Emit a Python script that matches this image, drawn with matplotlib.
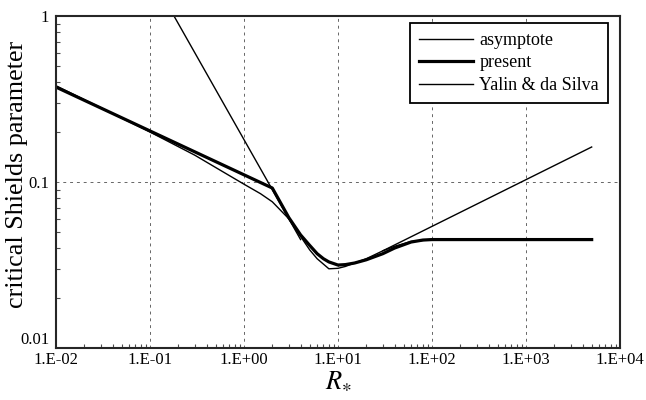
import matplotlib
matplotlib.use("Agg")
import matplotlib.pyplot as plt
from matplotlib.ticker import FixedLocator, LogLocator, NullFormatter

plt.rcParams['font.family'] = ['Liberation Serif', 'DejaVu Serif']
plt.rcParams['mathtext.fontset'] = 'stix'

# values
asym_low_R = [0.18, 4.0]
asym_low_theta = [1.0, 0.045]
asym_high_R = [30, 5000]
asym_high_theta = [0.0385, 0.1625]

present_R = [0.01, 2.0, 3, 4, 5, 6, 7, 8, 10, 12, 15, 20, 30, 40, 60, 80, 100, 5000]
present_theta = [0.373, 0.092, 0.061, 0.048, 0.0415, 0.037, 0.0345, 0.033, 0.0316,
                 0.0318, 0.0325, 0.034, 0.037, 0.040, 0.0435, 0.0447, 0.045, 0.045]

yalin_R = [0.01, 0.03, 0.1, 0.3, 0.6, 1, 1.5, 2, 3, 4, 5, 6, 8, 10, 12, 15, 20,
           30, 40, 60, 100, 5000]
yalin_theta = [0.38, 0.28, 0.200, 0.145, 0.115, 0.097, 0.085, 0.076, 0.060, 0.047,
               0.039, 0.0345, 0.030, 0.0302, 0.031, 0.0325, 0.0345, 0.0385, 0.041,
               0.0438, 0.045, 0.045]

x_ticks = [1e-2, 1e-1, 1e0, 1e1, 1e2, 1e3, 1e4]
x_labels = ['1.E-02', '1.E-01', '1.E+00', '1.E+01', '1.E+02', '1.E+03', '1.E+04']
y_ticks = [0.01, 0.1, 1]
y_labels = ['0.01', '0.1', '1']

fig = plt.figure(figsize=(6.46, 4.0), dpi=100)
ax = fig.add_axes([0.0867, 0.13, 0.873, 0.83])

ax.plot(asym_low_R, asym_low_theta, color='black', lw=1.0, label='asymptote')
ax.plot(asym_high_R, asym_high_theta, color='black', lw=1.0)
ax.plot(present_R, present_theta, color='black', lw=2.3, label='present')
ax.plot(yalin_R, yalin_theta, color='black', lw=1.0, label='Yalin & da Silva')

ax.set_xscale('log')
ax.set_yscale('log')
ax.set_xlim(1e-2, 1e4)
ax.set_ylim(0.01, 1)

ax.xaxis.set_major_locator(FixedLocator(x_ticks))
ax.set_xticklabels(x_labels)
ax.yaxis.set_major_locator(FixedLocator(y_ticks))
ax.set_yticklabels(y_labels)
ax.xaxis.set_minor_locator(LogLocator(base=10, subs=range(2, 10), numticks=20))
ax.yaxis.set_minor_locator(LogLocator(base=10, subs=range(2, 10), numticks=20))
ax.xaxis.set_minor_formatter(NullFormatter())
ax.yaxis.set_minor_formatter(NullFormatter())
ax.tick_params(which='both', direction='in', labelsize=12, width=0.8, color='0.3')
ax.tick_params(which='major', length=0)
ax.tick_params(axis='x', which='major', pad=3)
ax.tick_params(axis='y', which='major', pad=5)
ax.tick_params(which='minor', length=3)
# the bottom y label sits a little above the spine, clear of 1.E-02
ax.get_yticklabels()[0].set_va('bottom')

ax.grid(True, which='major', color='0.4', lw=0.7, linestyle=(0, (3, 4)))

for s in ax.spines.values():
    s.set_linewidth(1.5)
    s.set_color('0.15')

ax.set_ylabel('critical Shields parameter', fontsize=18.8)
ax.yaxis.set_label_coords(-0.049, 0.522)
ax.set_xlabel(r'$R_{\ast}$', fontsize=19, labelpad=1)

leg = ax.legend(loc='upper right', fontsize=13, frameon=True, fancybox=False,
                edgecolor='black', handlelength=3.0, handletextpad=0.35,
                borderpad=0.5, labelspacing=0.3, borderaxespad=0,
                bbox_to_anchor=(0.979, 0.979))
leg.get_frame().set_linewidth(1.3)
leg.get_frame().set_alpha(1)

fig.savefig('out.png', dpi=100)
